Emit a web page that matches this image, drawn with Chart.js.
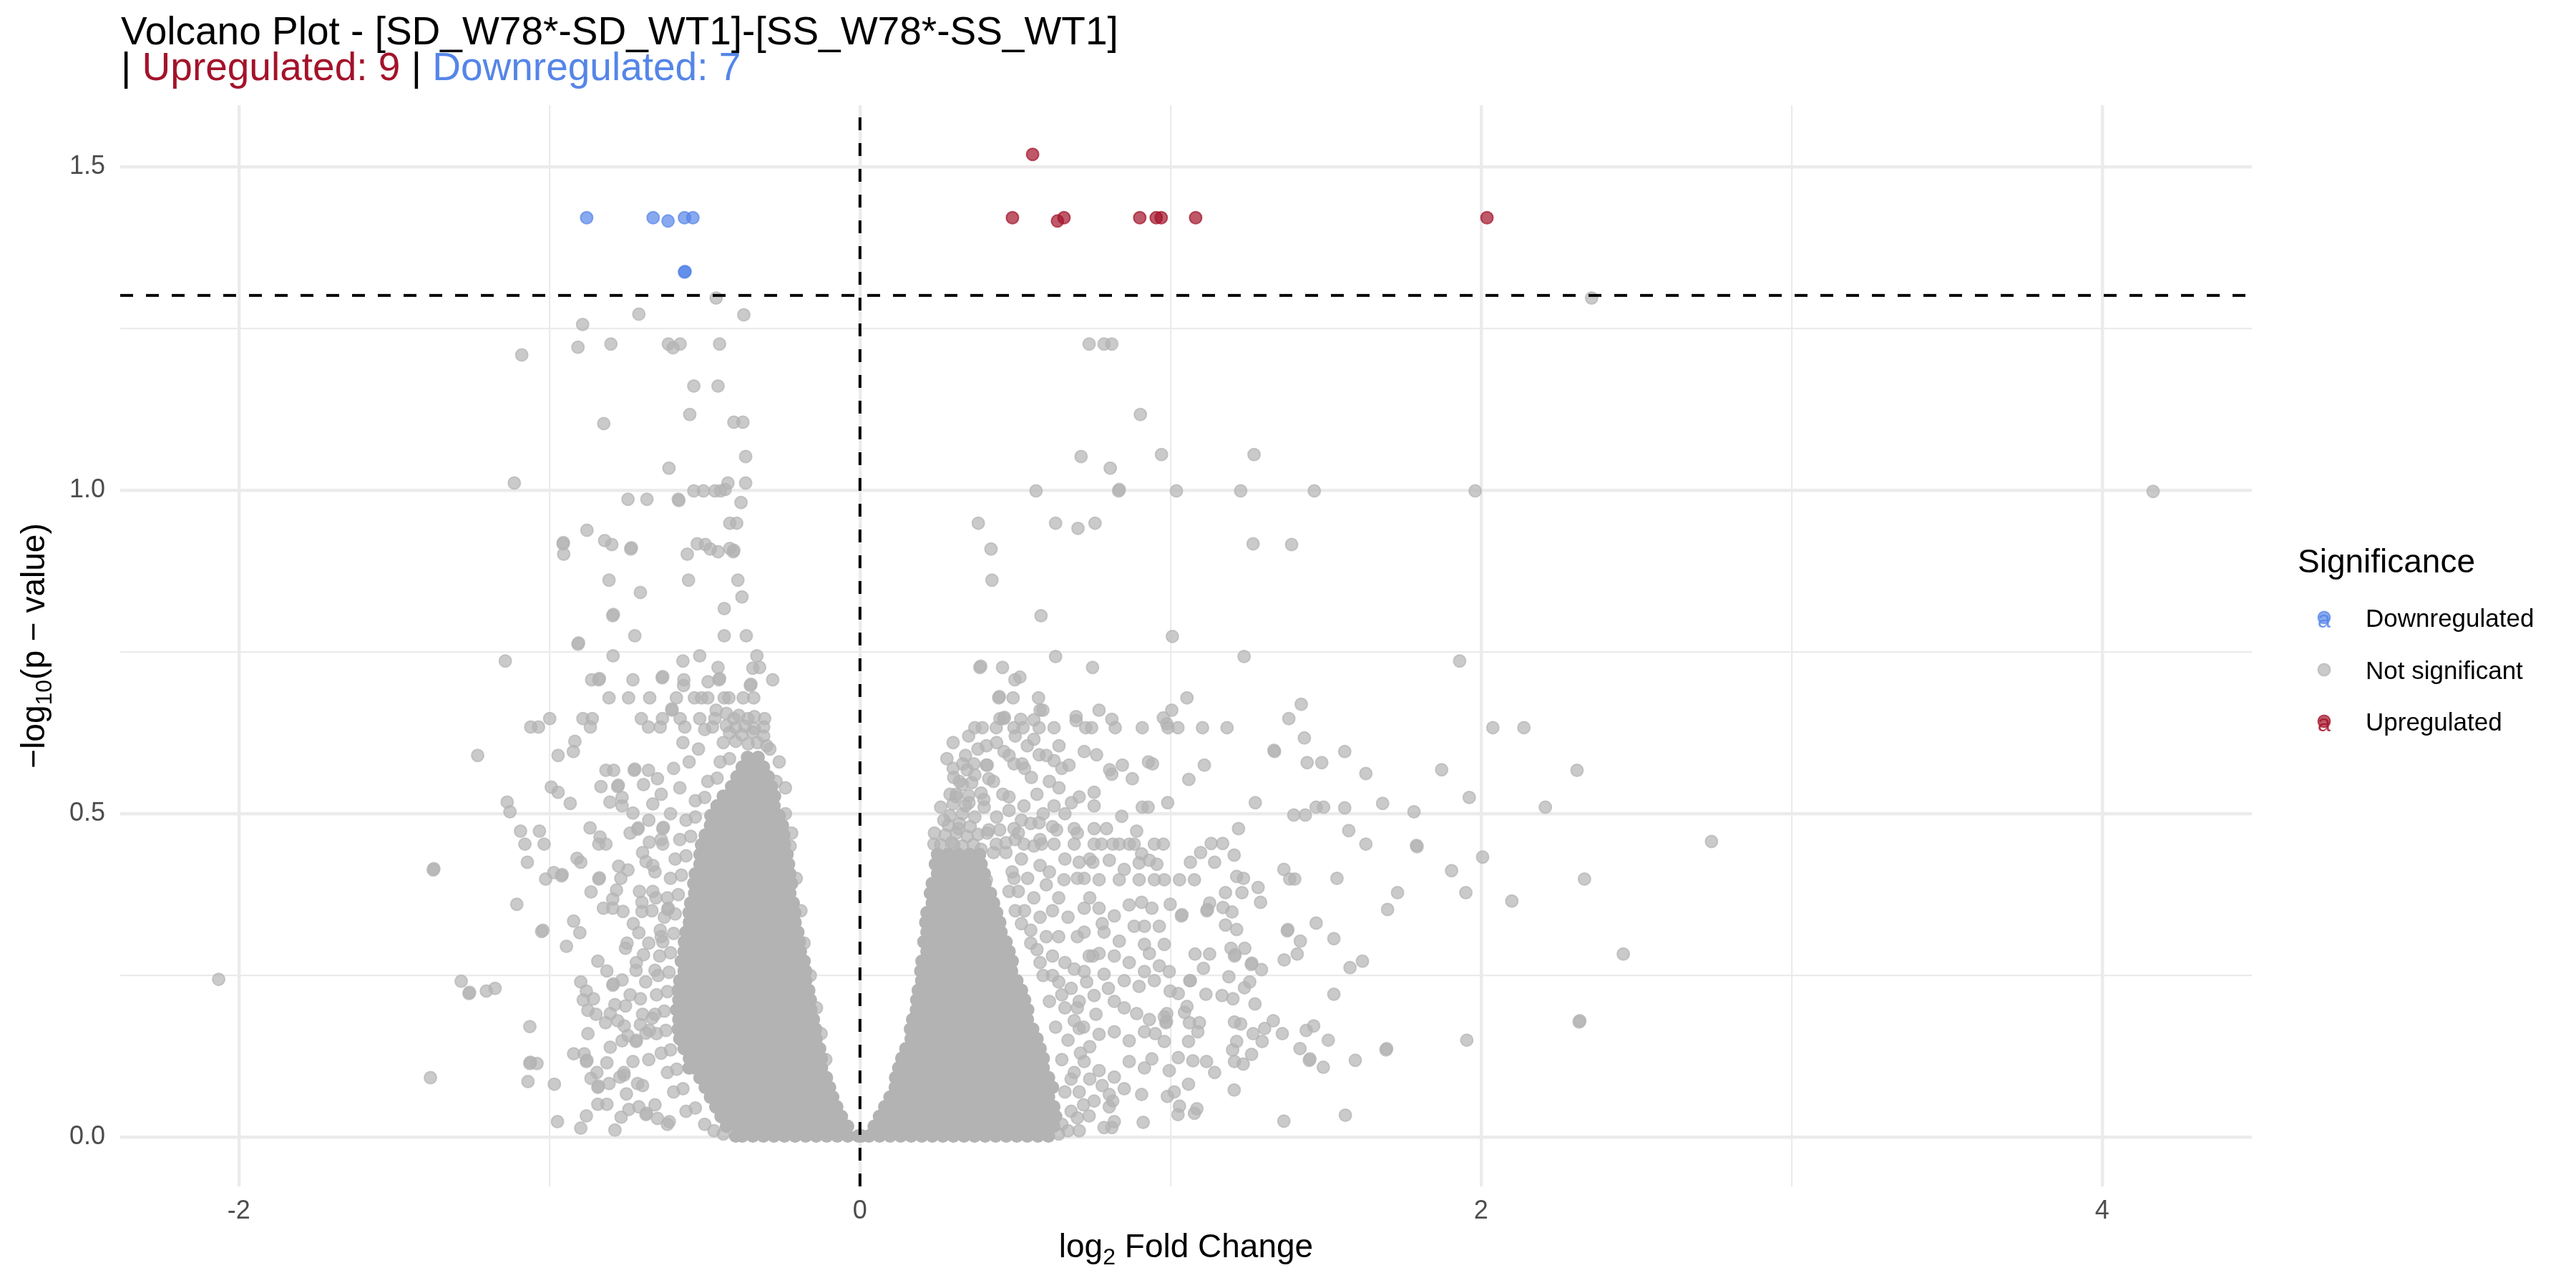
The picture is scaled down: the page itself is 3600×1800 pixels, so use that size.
<!DOCTYPE html>
<html><head><meta charset="utf-8">
<script src="https://cdn.jsdelivr.net/npm/chart.js@4.4.1/dist/chart.umd.min.js"></script>
<style>html,body{margin:0;padding:0;background:#fff;}#wrap{width:3600px;height:1800px;}</style>
</head><body><div id="wrap"><canvas id="c" width="3600" height="1800"></canvas></div>
<script>
// ---------------- data ----------------
const titleLine1 = "Volcano Plot - [SD_W78*-SD_WT1]-[SS_W78*-SS_WT1]";
const upCount = 9, downCount = 7;
const legendTitle = "Significance";
const legendLabels = ["Downregulated", "Not significant", "Upregulated"];
const xMajor = [-2, 0, 2, 4];
const yMajor = [0, 0.5, 1, 1.5];
const fcLine = 0;        // vertical dashed line (log2 FC = 0)
const pLine = 1.301;     // horizontal dashed line (-log10 0.05)

const downX = [-0.880, -0.666, -0.618, -0.565, -0.538, -0.565, -0.563];
const downY = [1.421, 1.421, 1.416, 1.421, 1.421, 1.337, 1.338];
const upX = [0.491, 0.636, 0.657, 0.901, 0.954, 0.970, 1.081, 2.019, 0.556];
const upY = [1.421, 1.416, 1.421, 1.421, 1.421, 1.421, 1.421, 1.421, 1.519];

// scattered non-significant genes: [log2FC, -log10 p]
const nsLeftUpper = [[-0.463,1.297],[-0.712,1.272],[-0.374,1.271],[-0.893,1.256],[-0.908,1.221],[-0.802,1.226],[-0.617,1.226],[-0.602,1.220],[-0.579,1.226],[-0.452,1.226],[-1.089,1.209],[-0.535,1.161],[-0.457,1.161],[-0.548,1.117],[-0.825,1.103],[-0.406,1.105],[-0.377,1.105],[-0.368,1.052],[-0.615,1.034],[-1.113,1.011],[-0.425,1.011],[-0.368,1.011],[-0.535,0.999],[-0.504,0.999],[-0.467,0.999],[-0.449,0.999],[-0.434,1.001],[-0.747,0.986],[-0.686,0.986],[-0.585,0.986],[-0.583,0.984],[-0.383,0.981],[-0.419,0.949],[-0.397,0.949],[-0.879,0.938],[-0.822,0.922],[-0.956,0.917],[-0.955,0.919],[-0.954,0.901],[-0.799,0.916],[-0.738,0.909],[-0.736,0.911],[-0.524,0.917],[-0.498,0.916],[-0.482,0.909],[-0.556,0.901],[-0.457,0.905],[-0.419,0.910],[-0.408,0.905],[-0.406,0.907],[-0.808,0.861],[-0.552,0.861],[-0.393,0.861],[-0.707,0.842],[-0.380,0.835],[-0.437,0.817],[-0.796,0.806],[-0.794,0.808],[-0.725,0.775],[-0.437,0.775],[-0.366,0.775],[-0.908,0.762],[-0.906,0.764],[-1.142,0.736],[-0.795,0.744],[-0.570,0.736],[-0.516,0.744],[-0.332,0.744],[-0.457,0.726],[-0.345,0.725],[-0.323,0.726],[-0.864,0.707],[-0.841,0.707],[-0.839,0.709],[-0.731,0.707],[-0.637,0.710],[-0.635,0.712],[-0.567,0.707],[-0.568,0.698],[-0.489,0.704],[-0.454,0.707],[-0.452,0.709],[-0.353,0.698],[-0.351,0.700],[-0.281,0.707],
[-0.808,0.679],[-0.745,0.679],[-0.677,0.679],[-0.591,0.679],[-0.533,0.679],[-0.510,0.679],[-0.490,0.679],[-0.437,0.679],[-0.422,0.679],[-0.376,0.679],[-0.342,0.679],[-0.605,0.660],[-0.606,0.662],[-0.463,0.660],
[-0.999,0.647],[-0.892,0.647],[-0.862,0.647],[-0.704,0.647],[-0.636,0.647],[-0.579,0.647],[-0.516,0.647],[-0.467,0.647],[-0.406,0.647],[-0.361,0.647],[-0.307,0.647],[-0.43,0.655],[-0.39,0.652],[-0.34,0.650],
[-1.060,0.634],[-1.035,0.634],[-0.868,0.634],[-0.681,0.634],[-0.643,0.634],[-0.564,0.634],[-0.475,0.634],[-0.43,0.636],[-0.40,0.633],[-0.37,0.635],[-0.34,0.632],[-0.31,0.634]];

const nsLeftLower = [[-1.231,0.590],[-0.918,0.612],[-0.972,0.590],[-0.923,0.596],[-0.818,0.567],[-0.793,0.567],[-0.727,0.567],[-0.725,0.569],[-0.681,0.567],[-0.834,0.542],[-0.780,0.542],[-0.778,0.544],[-0.994,0.541],[-0.972,0.533],[-1.136,0.518],[-1.127,0.503],[-0.933,0.516],[-0.805,0.518],[-0.766,0.525],[-0.766,0.512],[-0.731,0.501],[-0.697,0.545],[-0.652,0.554],[-0.667,0.515],[-1.093,0.473],[-1.032,0.473],[-1.079,0.453],[-1.017,0.453],[-0.869,0.478],[-0.837,0.464],[-0.841,0.453],[-0.818,0.453],[-0.716,0.476],[-0.714,0.478],[-0.678,0.456],[-0.635,0.477],[-0.633,0.479],[-0.635,0.453],[-1.071,0.425],[-0.911,0.431],[-0.899,0.425],[-1.374,0.413],[-1.372,0.415],[-1.012,0.399],[-0.986,0.409],[-0.961,0.404],[-0.959,0.406],[-0.841,0.399],[-0.839,0.401],[-0.777,0.419],[-0.747,0.413],[-0.689,0.426],[-0.667,0.420],[-0.866,0.379],[-0.784,0.382],[-0.796,0.368],[-0.826,0.354],[-0.796,0.354],[-0.763,0.349],[-0.702,0.363],[-0.702,0.349],[-0.667,0.380],[-0.657,0.370],[-0.619,0.352],[-0.617,0.354],[-1.105,0.360],[-0.922,0.334],[-1.025,0.318],[-1.021,0.320],[-0.902,0.316],[-0.945,0.295],[-0.755,0.292],[-0.712,0.316],[-0.697,0.282],[-0.643,0.320],[-0.635,0.302],[-0.844,0.272],[-0.815,0.257],[-0.721,0.258],[-0.766,0.243],[-0.796,0.235],[-0.794,0.237],[-0.660,0.258],[-2.065,0.244],[-1.284,0.241],[-1.259,0.222],[-1.257,0.224],[-1.203,0.226],[-1.175,0.230],[-0.899,0.240],[-0.881,0.226],[-0.858,0.214],[-0.891,0.212],[-0.876,0.196],[-0.850,0.190],[-0.804,0.191],[-0.789,0.205],[-0.755,0.203],[-0.819,0.177],[-0.707,0.214],[-0.707,0.174],[-0.669,0.184],[-0.678,0.165],[-1.063,0.171],[-0.876,0.160],[-0.759,0.172],[-0.747,0.157],[-0.766,0.149],[-0.804,0.139],[-0.721,0.148],[-0.689,0.161],[-0.922,0.129],[-0.888,0.129],[-0.881,0.117],[-0.879,0.119],[-0.815,0.115],[-0.731,0.117],[-1.063,0.114],[-1.040,0.114],[-1.061,0.116],[-1.383,0.092],[-1.069,0.086],[-0.984,0.082],[-0.866,0.091],[-0.847,0.100],[-0.844,0.077],[-0.842,0.079],[-0.808,0.083],[-0.773,0.093],[-0.760,0.096],[-0.752,0.067],[-0.716,0.083],[-0.844,0.051],[-0.815,0.051],[-0.744,0.043],[-0.712,0.047],[-0.689,0.035],[-0.687,0.037],[-0.769,0.031],[-0.974,0.024],[-0.881,0.033],[-0.899,0.014],[-0.789,0.011],[-0.652,0.029],[-0.614,0.024]];

const nsLeftFringe = [[-0.56,0.040],[-0.53,0.045],[-0.60,0.070],[-0.57,0.075],[-0.62,0.100],[-0.59,0.105],[-0.64,0.130],[-0.61,0.135],[-0.655,0.160],[-0.625,0.165],[-0.66,0.190],[-0.63,0.195],[-0.655,0.220],[-0.62,0.225],[-0.65,0.250],[-0.615,0.255],[-0.645,0.280],[-0.61,0.285],[-0.64,0.310],[-0.60,0.315],[-0.63,0.340],[-0.595,0.345],[-0.62,0.370],[-0.585,0.375],[-0.61,0.400],[-0.575,0.405],[-0.595,0.430],[-0.56,0.435],[-0.58,0.460],[-0.545,0.465],[-0.56,0.490],[-0.53,0.495],[-0.53,0.520],[-0.50,0.525],[-0.49,0.550],[-0.46,0.555],[-0.45,0.580],[-0.42,0.585],[-0.44,0.610],[-0.40,0.612],[-0.36,0.608],[-0.33,0.610],[-0.30,0.605],[-0.42,0.625],[-0.38,0.622],[-0.345,0.626],[-0.31,0.620],[-0.47,0.010],[-0.44,0.005],[-0.50,0.020],[-0.11,0.120],[-0.14,0.200],[-0.18,0.300],[-0.205,0.400],[-0.24,0.500],[-0.27,0.550],[-0.16,0.250],[-0.125,0.160],[-0.19,0.350],[-0.225,0.450],
[-0.62,0.020],[-0.66,0.050],[-0.70,0.080],[-0.68,0.120],[-0.72,0.150],[-0.70,0.190],[-0.74,0.220],[-0.69,0.240],[-0.72,0.270],[-0.68,0.300],[-0.73,0.330],[-0.67,0.350],[-0.71,0.380],[-0.66,0.410],[-0.70,0.440],[-0.64,0.460],[-0.68,0.490],[-0.61,0.500],[-0.64,0.530],[-0.58,0.540],[-0.60,0.570],[-0.55,0.580],[-0.52,0.600],[-0.57,0.610],[-0.50,0.630],[-0.76,0.100],[-0.78,0.180],[-0.75,0.300],[-0.77,0.400],[-0.74,0.470],[-0.26,0.580],[-0.29,0.600],[-0.24,0.540],[-0.22,0.470]];

const nsRightUpper = [[2.356,1.297],[0.738,1.226],[0.786,1.226],[0.811,1.226],[0.903,1.117],[0.712,1.052],[0.971,1.055],[1.269,1.055],[0.806,1.034],[0.567,0.999],[0.833,0.999],[0.835,1.001],[1.019,0.999],[1.226,0.999],[1.463,0.999],[1.981,0.999],[4.164,0.998],[0.381,0.949],[0.630,0.949],[0.702,0.941],[0.757,0.949],[0.422,0.909],[1.266,0.917],[1.390,0.916],[0.425,0.861],[0.583,0.806],[1.006,0.774],[0.630,0.743],[1.237,0.743],[1.931,0.736],[0.386,0.726],[0.389,0.728],[0.459,0.726],[0.749,0.726],[0.499,0.707],[0.515,0.711],[0.447,0.679],[0.449,0.681],[0.493,0.679],[0.575,0.679],[1.053,0.679],[0.580,0.660],[0.589,0.660],[0.770,0.660],[1.004,0.660],[1.421,0.669],[0.451,0.647],[0.463,0.647],[0.465,0.649],[0.518,0.646],[0.560,0.645],[0.696,0.650],[0.696,0.644],[0.811,0.646],[0.977,0.648],[1.381,0.647],[0.988,0.639],
[0.370,0.633],[0.394,0.633],[0.439,0.633],[0.496,0.633],[0.525,0.633],[0.577,0.633],[0.625,0.633],[0.727,0.633],[0.746,0.633],[0.822,0.633],[0.909,0.633],[0.992,0.633],[1.024,0.633],[1.103,0.633],[1.182,0.633],[2.038,0.633],[2.138,0.633]];

const nsRightLower = [[1.431,0.617],[1.335,0.596],[1.333,0.598],[1.561,0.596],[1.440,0.579],[1.487,0.579],[1.629,0.562],[1.873,0.568],[2.309,0.567],[1.109,0.575],[1.059,0.553],[0.942,0.577],[0.929,0.580],[0.845,0.575],[0.877,0.554],[0.804,0.568],[0.811,0.561],[1.962,0.525],[2.207,0.510],[1.273,0.517],[1.397,0.498],[1.434,0.498],[1.469,0.510],[1.493,0.510],[1.561,0.509],[1.683,0.516],[1.784,0.503],[0.991,0.517],[0.909,0.510],[0.928,0.510],[1.219,0.477],[1.574,0.474],[1.629,0.453],[1.794,0.449],[1.792,0.451],[2.005,0.433],[1.905,0.412],[2.333,0.399],[1.951,0.378],[2.099,0.365],[1.731,0.378],[1.699,0.352],[1.365,0.414],[1.384,0.399],[1.400,0.399],[1.536,0.400],[1.205,0.436],[1.131,0.454],[1.168,0.454],[1.097,0.440],[1.142,0.425],[1.064,0.425],[1.213,0.403],[1.235,0.400],[1.282,0.386],[1.177,0.378],[1.230,0.378],[1.290,0.363],[1.126,0.362],[1.117,0.350],[1.119,0.352],[1.169,0.355],[1.198,0.348],[1.035,0.342],[1.037,0.344],[0.999,0.360],[1.469,0.331],[1.376,0.319],[1.378,0.321],[1.177,0.328],[1.213,0.321],[1.526,0.307],[1.418,0.303],[2.458,0.283],[1.408,0.283],[1.366,0.274],[1.079,0.283],[1.126,0.283],[1.195,0.292],[1.239,0.292],[1.206,0.280],[1.208,0.282],[1.618,0.272],[1.578,0.262],[1.260,0.267],[1.262,0.269],[1.293,0.259],[1.106,0.261],[1.188,0.248],[1.255,0.240],[1.238,0.231],[1.526,0.221],[1.114,0.221],[1.166,0.219],[1.201,0.214],[1.064,0.242],[1.272,0.206],[2.316,0.178],[2.318,0.180],[1.954,0.150],[1.694,0.135],[1.696,0.137],[1.508,0.150],[1.595,0.119],[1.447,0.119],[1.449,0.121],[1.492,0.108],[1.461,0.172],[1.437,0.165],[1.360,0.160],[1.417,0.137],[1.331,0.180],[1.303,0.168],[1.266,0.160],[1.295,0.148],[1.206,0.178],[1.226,0.175],[1.213,0.148],[1.200,0.135],[1.261,0.128],[1.206,0.117],[1.234,0.113],[1.142,0.100],[1.205,0.073],[1.116,0.117],[1.072,0.118],[1.058,0.082],[1.365,0.025],[1.563,0.034],[0.912,0.023],[1.024,0.035],[1.077,0.037],[1.085,0.044],[1.029,0.048],[0.990,0.063],[1.012,0.070],[1.058,0.148],[1.025,0.123],[1.061,0.177],[1.093,0.177],[1.088,0.163],[0.985,0.177],[0.987,0.179],[1.045,0.193],[1.053,0.202],[0.988,0.191],[0.999,0.226],[1.025,0.222],[1.062,0.242],[0.951,0.160],[0.980,0.148],[0.940,0.121],[0.907,0.066],[0.996,0.103],[0.811,0.015],[0.814,0.056],[0.803,0.047],[2.742,0.457]];

const nsRightHalo = [[0.754,0.477],[0.794,0.477],[0.690,0.453],[0.754,0.453],[0.814,0.453],[0.867,0.453],[0.907,0.438],[0.948,0.453],[0.977,0.453],[0.706,0.425],[0.750,0.425],[0.803,0.428],[0.851,0.414],[0.899,0.424],[0.932,0.428],[0.956,0.422],[0.980,0.398],[1.029,0.398],[0.722,0.354],[0.770,0.354],[0.819,0.342],[0.867,0.359],[0.907,0.363],[0.940,0.354],[0.916,0.326],[0.964,0.326],[0.722,0.317],[0.786,0.317],[0.835,0.303],[0.883,0.326],[0.916,0.298],[0.932,0.284],[0.980,0.298],[0.738,0.280],[0.770,0.284],[0.819,0.280],[0.867,0.270],[0.916,0.256],[0.964,0.265],[0.996,0.256],[0.722,0.256],[0.786,0.252],[0.851,0.242],[0.899,0.233],[0.948,0.242],[0.706,0.210],[0.754,0.219],[0.819,0.210],[0.851,0.200],[0.891,0.191],[0.932,0.182],[0.980,0.186],[0.706,0.168],[0.770,0.159],[0.819,0.163],[0.867,0.149],[0.916,0.163],[0.722,0.117],[0.770,0.103],[0.819,0.093],[0.867,0.117],[0.916,0.107],[0.706,0.070],[0.754,0.056],[0.803,0.066],[0.851,0.075],[0.738,0.033],[0.786,0.015],[0.819,0.024],[0.706,0.010],
[0.407,0.605],[0.464,0.596],[0.539,0.605],[0.577,0.591],[0.641,0.605],[0.722,0.596],[0.762,0.591],[0.331,0.577],[0.367,0.577],[0.407,0.575],[0.496,0.577],[0.522,0.577],[0.625,0.582],[0.673,0.575],[0.302,0.556],[0.415,0.554],[0.552,0.556],[0.641,0.540],[0.706,0.526],[0.754,0.533],[0.310,0.526],[0.351,0.517],[0.399,0.522],[0.480,0.526],[0.528,0.512],[0.625,0.512],[0.681,0.517],[0.754,0.512],[0.843,0.496],[0.891,0.473],[0.318,0.477],[0.415,0.475],[0.496,0.477],[0.577,0.486],[0.633,0.475],[0.690,0.477],[0.238,0.453],[0.302,0.452],[0.439,0.453],[0.528,0.453],[0.585,0.453],[0.625,0.453],[0.778,0.453],[0.835,0.453],[0.883,0.453],[0.407,0.398],[0.496,0.400],[0.657,0.398],[0.722,0.400],[0.770,0.398],[0.835,0.398],[0.899,0.398],[0.948,0.398],[1.077,0.398],
[0.26,0.452],[0.295,0.455],[0.33,0.450],[0.365,0.452],[0.275,0.467],[0.31,0.470],[0.345,0.465],[0.38,0.468],[0.285,0.482],[0.32,0.485],[0.355,0.480],[0.29,0.497],[0.33,0.500],[0.37,0.495],[0.30,0.515],[0.34,0.512],[0.31,0.530],[0.35,0.528],[0.39,0.532],[0.32,0.550],[0.36,0.548],[0.30,0.570],[0.345,0.568],
[0.65,0.020],[0.68,0.040],[0.66,0.070],[0.69,0.100],[0.65,0.120],[0.67,0.150],[0.63,0.170],[0.66,0.200],[0.61,0.210],[0.64,0.240],[0.59,0.250],[0.62,0.280],[0.57,0.290],[0.60,0.310],[0.55,0.320],[0.58,0.340],[0.53,0.350],[0.56,0.370],[0.51,0.380],[0.54,0.400],[0.49,0.410],[0.52,0.430],[0.47,0.440],[0.50,0.460],[0.64,0.005],[0.67,0.010],[0.70,0.030],[0.72,0.050],[0.68,0.090],[0.71,0.130],[0.69,0.180],[0.68,0.230],[0.66,0.270],[0.64,0.310],[0.62,0.350],[0.60,0.390],[0.58,0.420],[0.56,0.450],
[0.24,0.470],[0.27,0.490],[0.26,0.510],[0.29,0.530],[0.33,0.545],[0.37,0.560],[0.41,0.575],[0.28,0.585],[0.34,0.590],[0.38,0.600],[0.44,0.610],[0.48,0.590],[0.43,0.550],[0.46,0.530],[0.40,0.510],[0.44,0.495],[0.48,0.505],[0.52,0.490],[0.41,0.470],[0.45,0.475],[0.39,0.445],[0.43,0.440],[0.47,0.455],[0.51,0.470],[0.55,0.485],[0.59,0.500],[0.57,0.530],[0.61,0.550],[0.53,0.570],[0.50,0.620],[0.56,0.615],[0.60,0.590],[0.65,0.570],[0.35,0.620],[0.30,0.610],
[0.48,0.380],[0.50,0.350],[0.52,0.330],[0.55,0.300],[0.58,0.270],[0.62,0.250],[0.65,0.220],[0.70,0.200],[0.73,0.240],[0.75,0.280],[0.70,0.310],[0.67,0.340],[0.64,0.370],[0.61,0.410],[0.66,0.430],[0.70,0.400],[0.74,0.370],[0.78,0.330],[0.80,0.230],[0.76,0.190],[0.74,0.140],[0.78,0.080],[0.74,0.090],[0.72,0.170],[0.69,0.260],[0.58,0.460],[0.62,0.480],[0.66,0.500],[0.70,0.470],[0.74,0.430]];

// dense cores: each row = [-log10 p, log2FC, log2FC, ...]
const nsLeftCore = [
[0.002,-0.400,-0.379,-0.345,-0.311,-0.277,-0.243,-0.209,-0.175,-0.141,-0.107,-0.073,-0.039,-0.005],
[0.017,-0.430,-0.396,-0.362,-0.328,-0.294,-0.260,-0.226,-0.192,-0.158,-0.124,-0.090,-0.056,-0.040],
[0.032,-0.447,-0.413,-0.379,-0.345,-0.311,-0.277,-0.243,-0.209,-0.175,-0.141,-0.107,-0.073,-0.060],
[0.047,-0.464,-0.430,-0.396,-0.362,-0.328,-0.294,-0.260,-0.226,-0.192,-0.158,-0.124,-0.090,-0.075],
[0.062,-0.481,-0.447,-0.413,-0.379,-0.345,-0.311,-0.277,-0.243,-0.209,-0.175,-0.141,-0.107,-0.088],
[0.077,-0.498,-0.464,-0.430,-0.396,-0.362,-0.328,-0.294,-0.260,-0.226,-0.192,-0.158,-0.124,-0.098],
[0.092,-0.515,-0.481,-0.447,-0.413,-0.379,-0.345,-0.311,-0.277,-0.243,-0.209,-0.175,-0.141,-0.108],
[0.107,-0.550,-0.532,-0.498,-0.464,-0.430,-0.396,-0.362,-0.328,-0.294,-0.260,-0.226,-0.192,-0.158,-0.124],
[0.122,-0.549,-0.515,-0.481,-0.447,-0.413,-0.379,-0.345,-0.311,-0.277,-0.243,-0.209,-0.175,-0.141,-0.124],
[0.137,-0.566,-0.532,-0.498,-0.464,-0.430,-0.396,-0.362,-0.328,-0.294,-0.260,-0.226,-0.192,-0.158,-0.130],
[0.152,-0.580,-0.549,-0.515,-0.481,-0.447,-0.413,-0.379,-0.345,-0.311,-0.277,-0.243,-0.209,-0.175,-0.141],
[0.167,-0.585,-0.566,-0.532,-0.498,-0.464,-0.430,-0.396,-0.362,-0.328,-0.294,-0.260,-0.226,-0.192,-0.158,-0.143],
[0.182,-0.583,-0.549,-0.515,-0.481,-0.447,-0.413,-0.379,-0.345,-0.311,-0.277,-0.243,-0.209,-0.175,-0.150],
[0.197,-0.590,-0.566,-0.532,-0.498,-0.464,-0.430,-0.396,-0.362,-0.328,-0.294,-0.260,-0.226,-0.192,-0.158],
[0.212,-0.583,-0.549,-0.515,-0.481,-0.447,-0.413,-0.379,-0.345,-0.311,-0.277,-0.243,-0.209,-0.175,-0.160],
[0.227,-0.585,-0.566,-0.532,-0.498,-0.464,-0.430,-0.396,-0.362,-0.328,-0.294,-0.260,-0.226,-0.192,-0.165],
[0.242,-0.580,-0.549,-0.515,-0.481,-0.447,-0.413,-0.379,-0.345,-0.311,-0.277,-0.243,-0.209,-0.175],
[0.257,-0.566,-0.532,-0.498,-0.464,-0.430,-0.396,-0.362,-0.328,-0.294,-0.260,-0.226,-0.192,-0.175],
[0.272,-0.575,-0.549,-0.515,-0.481,-0.447,-0.413,-0.379,-0.345,-0.311,-0.277,-0.243,-0.209,-0.180],
[0.287,-0.566,-0.532,-0.498,-0.464,-0.430,-0.396,-0.362,-0.328,-0.294,-0.260,-0.226,-0.192],
[0.302,-0.565,-0.549,-0.515,-0.481,-0.447,-0.413,-0.379,-0.345,-0.311,-0.277,-0.243,-0.209,-0.195],
[0.317,-0.560,-0.532,-0.498,-0.464,-0.430,-0.396,-0.362,-0.328,-0.294,-0.260,-0.226,-0.200],
[0.332,-0.549,-0.515,-0.481,-0.447,-0.413,-0.379,-0.345,-0.311,-0.277,-0.243,-0.209],
[0.347,-0.550,-0.532,-0.498,-0.464,-0.430,-0.396,-0.362,-0.328,-0.294,-0.260,-0.226,-0.210],
[0.362,-0.545,-0.515,-0.481,-0.447,-0.413,-0.379,-0.345,-0.311,-0.277,-0.243,-0.215],
[0.377,-0.532,-0.498,-0.464,-0.430,-0.396,-0.362,-0.328,-0.294,-0.260,-0.226],
[0.392,-0.535,-0.515,-0.481,-0.447,-0.413,-0.379,-0.345,-0.311,-0.277,-0.243,-0.220],
[0.407,-0.530,-0.498,-0.464,-0.430,-0.396,-0.362,-0.328,-0.294,-0.260,-0.226],
[0.422,-0.515,-0.481,-0.447,-0.413,-0.379,-0.345,-0.311,-0.277,-0.243,-0.230],
[0.437,-0.515,-0.498,-0.464,-0.430,-0.396,-0.362,-0.328,-0.294,-0.260,-0.235],
[0.452,-0.510,-0.481,-0.447,-0.413,-0.379,-0.345,-0.311,-0.277,-0.243],
[0.467,-0.498,-0.464,-0.430,-0.396,-0.362,-0.328,-0.294,-0.260,-0.245],
[0.482,-0.481,-0.447,-0.413,-0.379,-0.345,-0.311,-0.277,-0.250],
[0.497,-0.480,-0.464,-0.430,-0.396,-0.362,-0.328,-0.294,-0.260],
[0.512,-0.460,-0.447,-0.413,-0.379,-0.345,-0.311,-0.277],
[0.527,-0.440,-0.430,-0.396,-0.362,-0.328,-0.294,-0.275],
[0.542,-0.413,-0.379,-0.345,-0.311,-0.285],
[0.557,-0.396,-0.362,-0.328,-0.295],
[0.572,-0.379,-0.345,-0.311],
[0.587,-0.362,-0.328]];

const nsRightCore = [
[0.002,0.005,0.029,0.063,0.097,0.131,0.165,0.199,0.233,0.267,0.301,0.335,0.369,0.403,0.437,0.471,0.505,0.539,0.573,0.607],
[0.017,0.046,0.080,0.114,0.148,0.182,0.216,0.250,0.284,0.318,0.352,0.386,0.420,0.454,0.488,0.522,0.556,0.590,0.624],
[0.032,0.063,0.097,0.131,0.165,0.199,0.233,0.267,0.301,0.335,0.369,0.403,0.437,0.471,0.505,0.539,0.573,0.607,0.630],
[0.047,0.080,0.114,0.148,0.182,0.216,0.250,0.284,0.318,0.352,0.386,0.420,0.454,0.488,0.522,0.556,0.590,0.624],
[0.062,0.097,0.131,0.165,0.199,0.233,0.267,0.301,0.335,0.369,0.403,0.437,0.471,0.505,0.539,0.573,0.607],
[0.077,0.114,0.148,0.182,0.216,0.250,0.284,0.318,0.352,0.386,0.420,0.454,0.488,0.522,0.556,0.590,0.620],
[0.092,0.115,0.131,0.165,0.199,0.233,0.267,0.301,0.335,0.369,0.403,0.437,0.471,0.505,0.539,0.573,0.607],
[0.107,0.125,0.148,0.182,0.216,0.250,0.284,0.318,0.352,0.386,0.420,0.454,0.488,0.522,0.556,0.590],
[0.122,0.135,0.165,0.199,0.233,0.267,0.301,0.335,0.369,0.403,0.437,0.471,0.505,0.539,0.573,0.590],
[0.137,0.148,0.182,0.216,0.250,0.284,0.318,0.352,0.386,0.420,0.454,0.488,0.522,0.556,0.580],
[0.152,0.165,0.199,0.233,0.267,0.301,0.335,0.369,0.403,0.437,0.471,0.505,0.539,0.570],
[0.167,0.163,0.182,0.216,0.250,0.284,0.318,0.352,0.386,0.420,0.454,0.488,0.522,0.556],
[0.182,0.170,0.199,0.233,0.267,0.301,0.335,0.369,0.403,0.437,0.471,0.505,0.539],
[0.197,0.182,0.216,0.250,0.284,0.318,0.352,0.386,0.420,0.454,0.488,0.522,0.540],
[0.212,0.183,0.199,0.233,0.267,0.301,0.335,0.369,0.403,0.437,0.471,0.505,0.530],
[0.227,0.188,0.216,0.250,0.284,0.318,0.352,0.386,0.420,0.454,0.488,0.520],
[0.242,0.199,0.233,0.267,0.301,0.335,0.369,0.403,0.437,0.471,0.505],
[0.257,0.196,0.216,0.250,0.284,0.318,0.352,0.386,0.420,0.454,0.488],
[0.272,0.200,0.233,0.267,0.301,0.335,0.369,0.403,0.437,0.471,0.490],
[0.287,0.216,0.250,0.284,0.318,0.352,0.386,0.420,0.454,0.480],
[0.302,0.206,0.233,0.267,0.301,0.335,0.369,0.403,0.437,0.470],
[0.317,0.216,0.250,0.284,0.318,0.352,0.386,0.420,0.454],
[0.332,0.212,0.233,0.267,0.301,0.335,0.369,0.403,0.437,0.450],
[0.347,0.216,0.250,0.284,0.318,0.352,0.386,0.420,0.440],
[0.362,0.233,0.267,0.301,0.335,0.369,0.403,0.430],
[0.377,0.227,0.250,0.284,0.318,0.352,0.386,0.420],
[0.392,0.233,0.267,0.301,0.335,0.369,0.403],
[0.407,0.250,0.284,0.318,0.352,0.386,0.400],
[0.422,0.243,0.267,0.301,0.335,0.369,0.390],
[0.437,0.250,0.284,0.318,0.352,0.385]];

// ---------------- styling ----------------
const FONT = '"Liberation Sans", Arial, Helvetica, sans-serif';
const C_UP = '163,19,42', C_DOWN = '85,133,232', C_NS = '179,179,179';
const ALPHA = 0.7;
const rgba = (c, a) => `rgba(${c},${a})`;

const pairs = arr => arr.map(([x, y]) => ({x, y}));
const rows = arr => arr.flatMap(([y, ...xs]) => xs.map(x => ({x, y})));
const pt = (c, a) => ({backgroundColor: rgba(c, a), borderColor: rgba(c, a), pointRadius: 8.5, borderWidth: 2, pointHoverRadius: 8.5});

Chart.defaults.font.family = FONT;
Chart.defaults.animation = false;

const decor = {
  id: 'decor',
  beforeDraw(chart) {
    const c = chart.ctx; c.save(); c.fillStyle = '#fff'; c.fillRect(0, 0, chart.width, chart.height); c.restore();
  },
  afterDatasetsDraw(chart) {
    const {ctx, chartArea: a, scales: {x, y}} = chart;
    ctx.save();
    ctx.strokeStyle = '#000'; ctx.lineWidth = 4; ctx.setLineDash([18, 18]);
    const px = x.getPixelForValue(fcLine);
    ctx.beginPath(); ctx.moveTo(px, a.bottom); ctx.lineTo(px, a.top); ctx.stroke();
    const py = y.getPixelForValue(pLine);
    ctx.beginPath(); ctx.moveTo(a.left, py); ctx.lineTo(a.right, py); ctx.stroke();
    ctx.restore();
  },
  afterDraw(chart) {
    const {ctx, chartArea: a} = chart;
    ctx.save();
    ctx.textBaseline = 'alphabetic'; ctx.textAlign = 'left';
    // title
    const tf = `55px ${FONT}`;
    ctx.font = tf; ctx.fillStyle = '#000';
    ctx.fillText(titleLine1, 169, 62);
    const runs = [['| ', '#000'], ['Upregulated: ' + upCount, rgba(C_UP, 1)], [' | ', '#000'], ['Downregulated: ' + downCount, rgba(C_DOWN, 1)]];
    let tx = 169;
    for (const [t, col] of runs) { ctx.fillStyle = col; ctx.fillText(t, tx, 112); tx += ctx.measureText(t).width; }
    // x axis title with subscript
    const big = `46px ${FONT}`, sub = `32px ${FONT}`;
    const xt = [['log', big, 0], ['2', sub, 10], [' Fold Change', big, 0]];
    let w = 0; for (const [t, f] of xt) { ctx.font = f; w += ctx.measureText(t).width; }
    let cx = (a.left + a.right) / 2 - w / 2;
    ctx.fillStyle = '#000';
    for (const [t, f, dy] of xt) { ctx.font = f; ctx.fillText(t, cx, 1757 + dy); cx += ctx.measureText(t).width; }
    // y axis title (rotated)
    const yt = [['\u2212log', big, 0], ['10', sub, 10], ['(p \u2212 value)', big, 0]];
    w = 0; for (const [t, f] of yt) { ctx.font = f; w += ctx.measureText(t).width; }
    ctx.save();
    ctx.translate(62, (a.top + a.bottom) / 2); ctx.rotate(-Math.PI / 2);
    cx = -w / 2;
    for (const [t, f, dy] of yt) { ctx.font = f; ctx.fillText(t, cx, dy); cx += ctx.measureText(t).width; }
    ctx.restore();
    // legend
    ctx.font = `46px ${FONT}`; ctx.fillStyle = '#000';
    ctx.fillText(legendTitle, 3211, 800);
    const keys = [[C_DOWN, true], [C_NS, false], [C_UP, true]];
    const ky = [863, 936, 1008];
    keys.forEach(([c, letter], i) => {
      ctx.beginPath(); ctx.arc(3248, ky[i], 8.5, 0, Math.PI * 2);
      ctx.fillStyle = rgba(c, ALPHA); ctx.fill();
      ctx.lineWidth = 2; ctx.strokeStyle = rgba(c, ALPHA); ctx.stroke();
      if (letter) {
        ctx.font = `33px ${FONT}`; ctx.textAlign = 'center'; ctx.fillStyle = rgba(c, 0.85);
        ctx.fillText('a', 3248, ky[i] + 14); ctx.textAlign = 'left';
      }
      ctx.font = `35px ${FONT}`; ctx.fillStyle = '#000';
      ctx.fillText(legendLabels[i], 3306, ky[i] + 13);
    });
    ctx.restore();
  }
};

new Chart(document.getElementById('c'), {
  type: 'scatter',
  data: {
    datasets: [
      {label: 'Downregulated', data: downX.map((x, i) => ({x, y: downY[i]})), ...pt(C_DOWN, ALPHA)},
      {label: 'Upregulated', data: upX.map((x, i) => ({x, y: upY[i]})), ...pt(C_UP, ALPHA)},
      {label: 'Not significant', data: pairs([...nsLeftUpper, ...nsLeftLower, ...nsLeftFringe, ...nsRightUpper, ...nsRightLower, ...nsRightHalo]), ...pt(C_NS, ALPHA)},
      {label: 'Not significant (dense)', data: rows([...nsLeftCore, ...nsRightCore]), ...pt(C_NS, 1)}
    ]
  },
  options: {
    responsive: false, devicePixelRatio: 1, events: [],
    layout: {padding: {left: 0, top: 147, right: 453, bottom: 0}},
    plugins: {legend: {display: false}, title: {display: false}, tooltip: {enabled: false}},
    scales: {
      x: {
        type: 'linear', min: -2.382, max: 4.482,
        afterFit: s => { s.height = 142; },
        border: {display: false},
        grid: {color: '#ebebeb', drawTicks: false, lineWidth: c => (c.tick && xMajor.includes(c.tick.value)) ? 4.4 : 2.2},
        ticks: {stepSize: 1, includeBounds: false, autoSkip: false, maxRotation: 0, padding: 13, color: '#4d4d4d', font: {size: 36},
          callback: v => xMajor.includes(v) ? String(v) : ''}
      },
      y: {
        type: 'linear', min: -0.076, max: 1.595,
        afterFit: s => { s.width = 168; },
        border: {display: false},
        grid: {color: '#ebebeb', drawTicks: false, lineWidth: c => (c.tick && yMajor.includes(c.tick.value)) ? 4.4 : 2.2},
        ticks: {stepSize: 0.25, includeBounds: false, autoSkip: false, padding: 21, color: '#4d4d4d', font: {size: 36},
          callback: v => yMajor.includes(v) ? v.toFixed(1) : ''}
      }
    }
  },
  plugins: [decor]
});
</script>
</body></html>
